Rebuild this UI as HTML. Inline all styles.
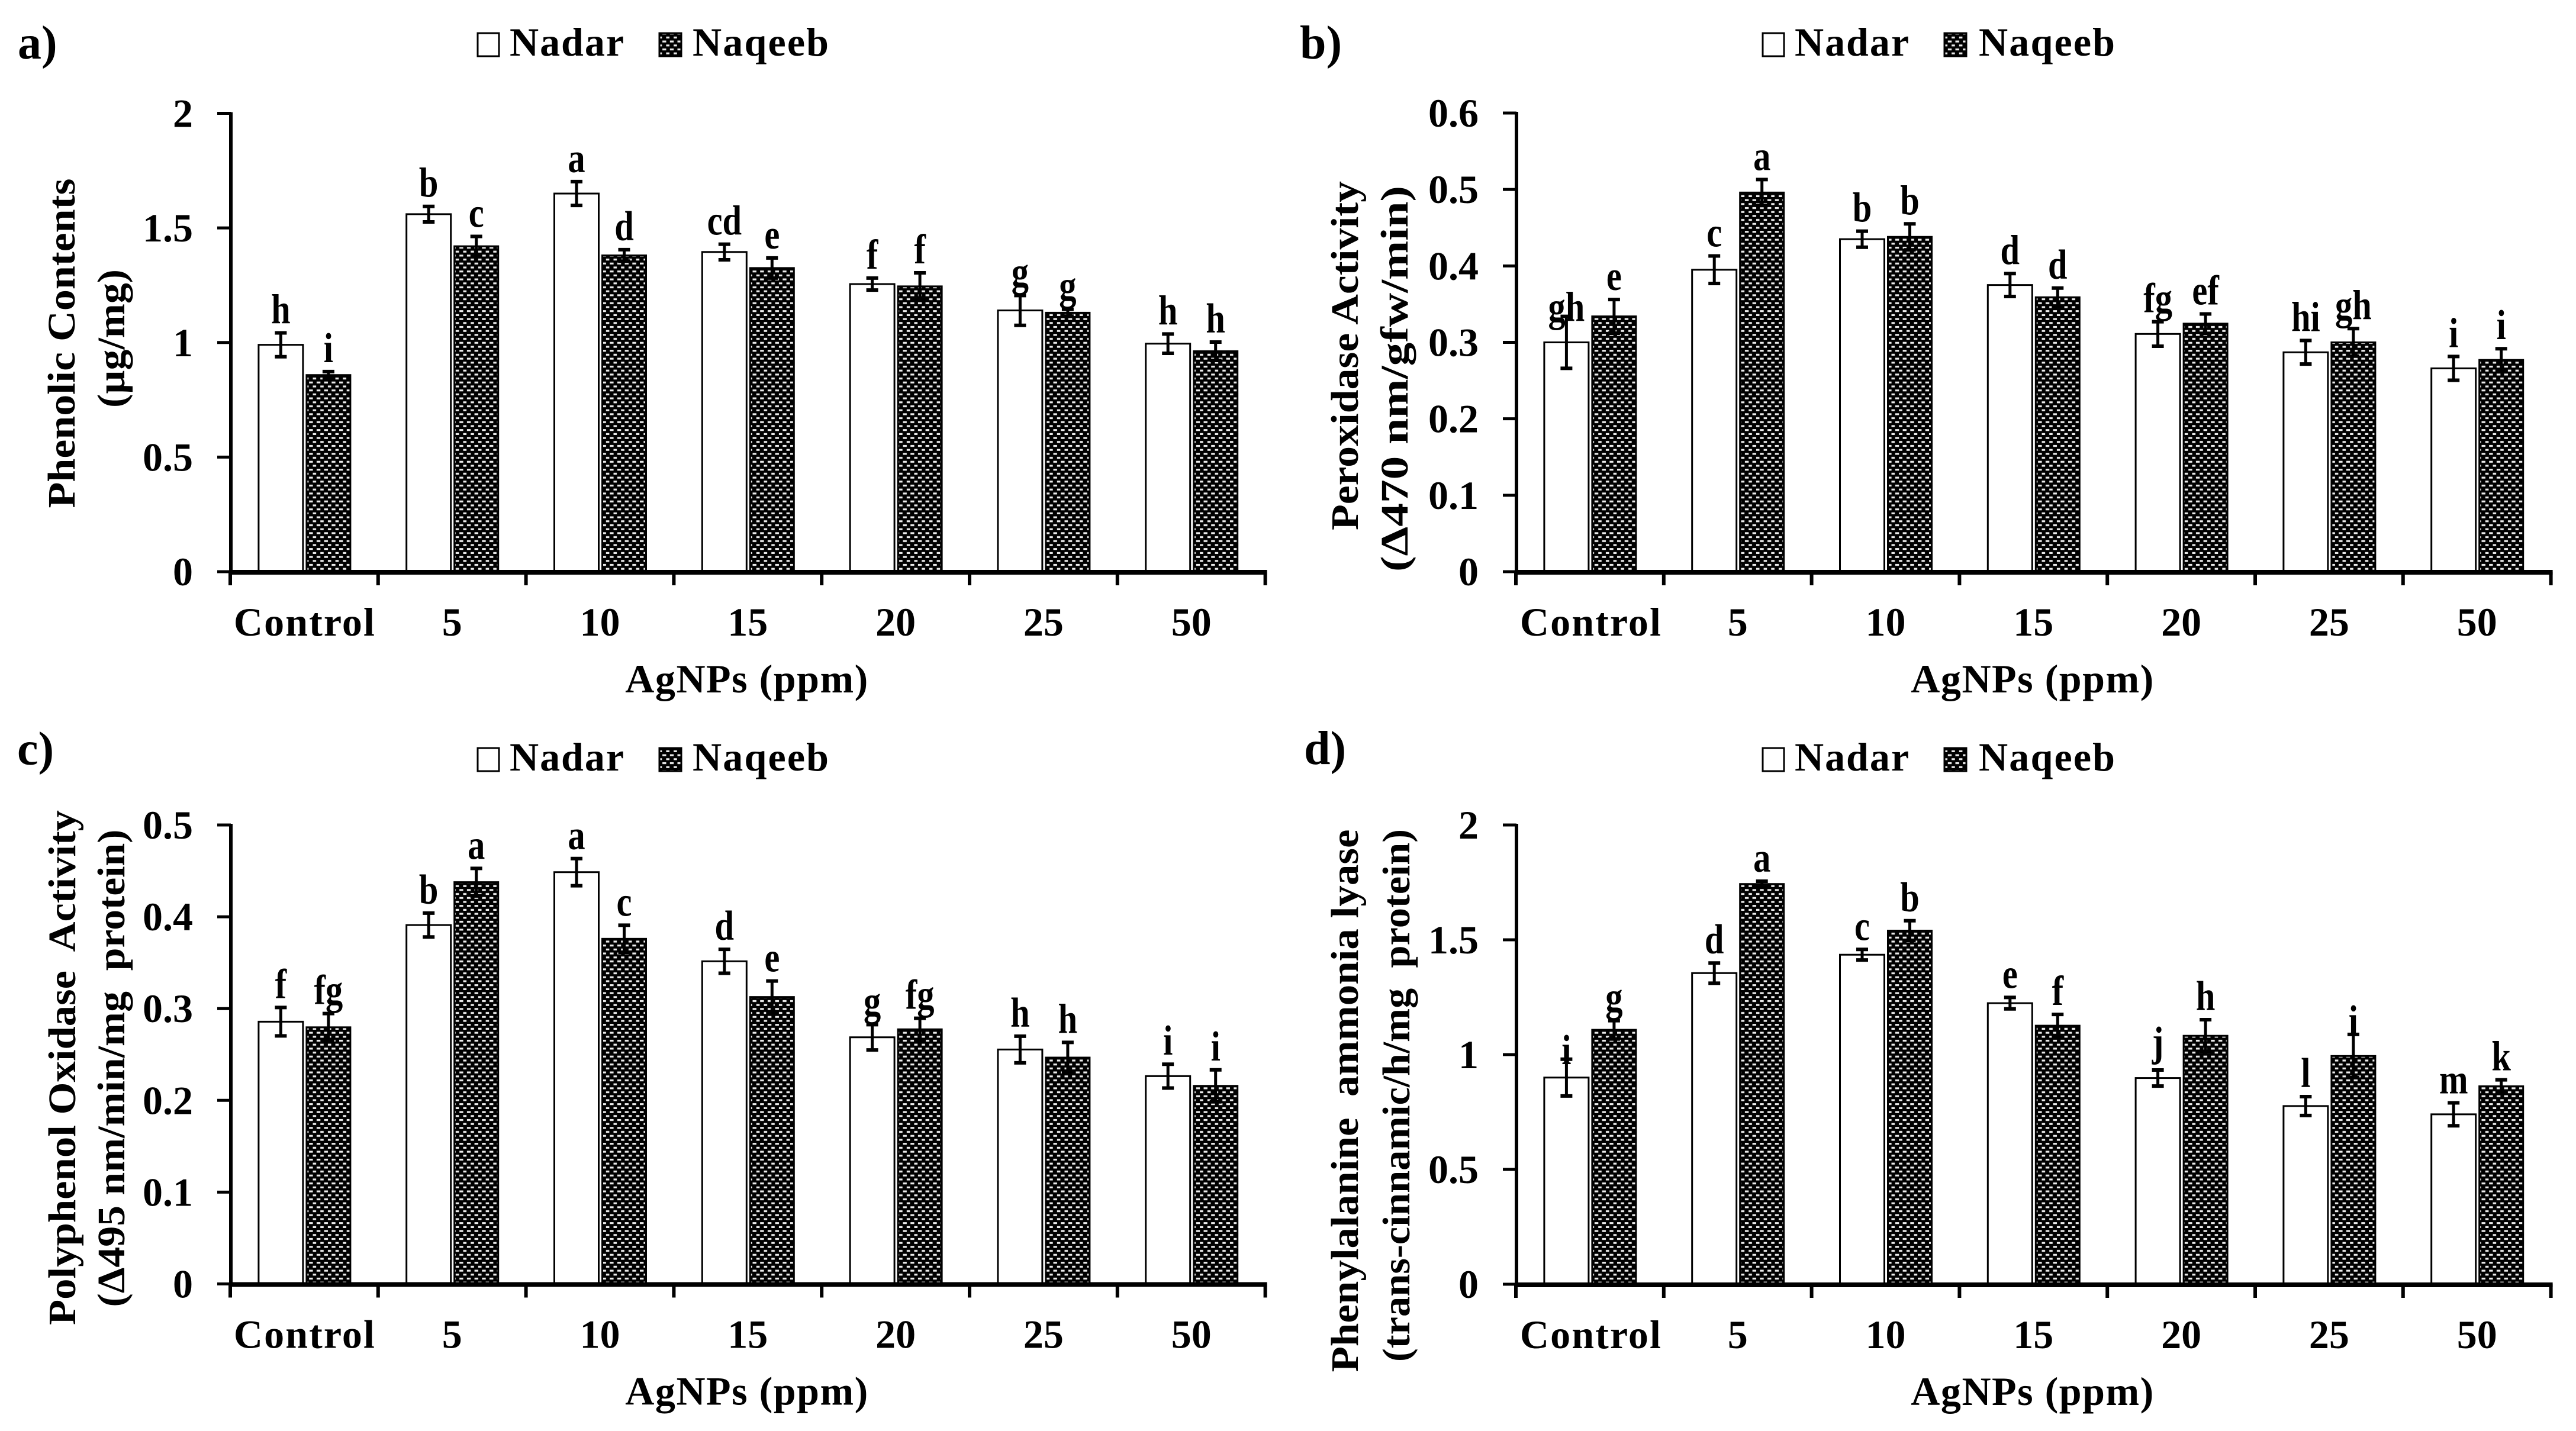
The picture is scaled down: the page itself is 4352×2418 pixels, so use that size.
<!DOCTYPE html>
<html lang="en">
<head>
<meta charset="utf-8">
<title>AgNPs effects on enzyme activity and phenolic contents</title>
<style>
html,body{margin:0;padding:0;background:#fff;}
svg{display:block;}
text{font-family:"Liberation Serif",serif;font-weight:bold;fill:#000;white-space:pre;}
</style>
</head>
<body>
<svg id="figure" xmlns="http://www.w3.org/2000/svg" width="4352" height="2418" viewBox="0 0 4352 2418">
  <defs>
    <pattern id="dots" patternUnits="userSpaceOnUse" width="12.7" height="13.4" x="1" y="0">
      <rect width="12.7" height="13.4" fill="#000"/>
      <rect x="0.5" y="1.5" width="6.4" height="3.2" fill="#ececec"/>
      <rect x="6.8" y="8.2" width="5.6" height="3.2" fill="#ececec"/>
    </pattern>
  </defs>
  <rect width="4352" height="2418" fill="#fff"/>
</svg>
<script>
const categories = ['Control', '5', '10', '15', '20', '25', '50'];
const seriesNames = ['Nadar', 'Naqeeb'];

const phenolicTicks = ['0', '0.5', '1', '1.5', '2'];
const phenolicNadar = [0.99, 1.56, 1.65, 1.395, 1.255, 1.14, 0.995];
const phenolicNaqeeb = [0.858, 1.42, 1.38, 1.325, 1.245, 1.13, 0.962];
const phenolicNadarErr = [0.052, 0.034, 0.052, 0.034, 0.026, 0.065, 0.042];
const phenolicNaqeebErr = [0.015, 0.043, 0.025, 0.044, 0.059, 0.015, 0.04];
const phenolicNadarLetters = ['h', 'b', 'a', 'cd', 'f', 'g', 'h'];
const phenolicNaqeebLetters = ['i', 'c', 'd', 'e', 'f', 'g', 'h'];

const peroxidaseTicks = ['0', '0.1', '0.2', '0.3', '0.4', '0.5', '0.6'];
const peroxidaseNadar = [0.30, 0.395, 0.435, 0.375, 0.311, 0.287, 0.266];
const peroxidaseNaqeeb = [0.334, 0.496, 0.438, 0.359, 0.3245, 0.30, 0.277];
const peroxidaseNadarErr = [0.034, 0.018, 0.0105, 0.015, 0.016, 0.0154, 0.0155];
const peroxidaseNaqeebErr = [0.022, 0.017, 0.017, 0.012, 0.0127, 0.018, 0.0147];
const peroxidaseNadarLetters = ['gh', 'c', 'b', 'd', 'fg', 'hi', 'i'];
const peroxidaseNaqeebLetters = ['e', 'a', 'b', 'd', 'ef', 'gh', 'i'];

const oxidaseTicks = ['0', '0.1', '0.2', '0.3', '0.4', '0.5'];
const oxidaseNadar = [0.2857, 0.391, 0.4486, 0.3515, 0.2687, 0.2554, 0.2264];
const oxidaseNaqeeb = [0.2796, 0.4377, 0.376, 0.3126, 0.2774, 0.2466, 0.2158];
const oxidaseNadarErr = [0.0155, 0.013, 0.0148, 0.013, 0.0138, 0.0145, 0.013];
const oxidaseNaqeebErr = [0.015, 0.015, 0.0148, 0.0174, 0.012, 0.0165, 0.0174];
const oxidaseNadarLetters = ['f', 'b', 'a', 'd', 'g', 'h', 'i'];
const oxidaseNaqeebLetters = ['fg', 'a', 'c', 'e', 'fg', 'h', 'i'];

const lyaseTicks = ['0', '0.5', '1', '1.5', '2'];
const lyaseNadar = [0.90, 1.355, 1.435, 1.224, 0.898, 0.776, 0.74];
const lyaseNaqeeb = [1.108, 1.743, 1.54, 1.126, 1.082, 0.994, 0.862];
const lyaseNadarErr = [0.08, 0.044, 0.023, 0.025, 0.035, 0.041, 0.05];
const lyaseNaqeebErr = [0.04, 0.012, 0.043, 0.049, 0.07, 0.094, 0.028];
const lyaseNadarLetters = ['i', 'd', 'c', 'e', 'j', 'l', 'm'];
const lyaseNaqeebLetters = ['g', 'a', 'b', 'f', 'h', 'i', 'k'];

const panels = [
  {id:'a', tag:'a)', tagX:30, tagY:99, left:389, top:191.5, base:966, ticks:phenolicTicks,
   nadar:phenolicNadar, naqeeb:phenolicNaqeeb, nadarErr:phenolicNadarErr, naqeebErr:phenolicNaqeebErr,
   nadarLetters:phenolicNadarLetters, naqeebLetters:phenolicNaqeebLetters, tightNadar:-1, tightNaqeeb:-1,
   legendY:94, box1:807, text1:861, box2:1114, text2:1170, controlShift:0,
   title:[['Phenolic Contents',126,580,557],['(\u00b5g/mg)',210,572,234]]},
  {id:'b', tag:'b)', tagX:2196, tagY:99, left:2561, top:191, base:966, ticks:peroxidaseTicks,
   nadar:peroxidaseNadar, naqeeb:peroxidaseNaqeeb, nadarErr:peroxidaseNadarErr, naqeebErr:peroxidaseNaqeebErr,
   nadarLetters:peroxidaseNadarLetters, naqeebLetters:peroxidaseNaqeebLetters, tightNadar:0, tightNaqeeb:-1,
   legendY:94, box1:2978, text1:3032, box2:3285, text2:3343, controlShift:1,
   title:[['Peroxidase Activity',2294,601,590],['(\u0394470 nm/gfw/min)',2378,640,652]]},
  {id:'c', tag:'c)', tagX:29, tagY:1292, left:389, top:1394, base:2169.5, ticks:oxidaseTicks,
   nadar:oxidaseNadar, naqeeb:oxidaseNaqeeb, nadarErr:oxidaseNadarErr, naqeebErr:oxidaseNaqeebErr,
   nadarLetters:oxidaseNadarLetters, naqeebLetters:oxidaseNaqeebLetters, tightNadar:-1, tightNaqeeb:-1,
   legendY:1302, box1:807, text1:861, box2:1114, text2:1170, controlShift:0,
   title:[['Polyphenol Oxidase  Activity',127,1804,870],['(\u0394495 nm/min/mg  protein)',210,1805,807]]},
  {id:'d', tag:'d)', tagX:2203, tagY:1291, left:2561, top:1394, base:2170, ticks:lyaseTicks,
   nadar:lyaseNadar, naqeeb:lyaseNaqeeb, nadarErr:lyaseNadarErr, naqeebErr:lyaseNaqeebErr,
   nadarLetters:lyaseNadarLetters, naqeebLetters:lyaseNaqeebLetters, tightNadar:0, tightNaqeeb:5,
   legendY:1302, box1:2978, text1:3032, box2:3285, text2:3343, controlShift:1,
   title:[['Phenylalanine  ammonia lyase',2294,1860,917],['(trans-cinnamic/h/mg  protein)',2381,1851,900]]}
];

const NS = 'http://www.w3.org/2000/svg';
const root = document.getElementById('figure');
const CAT_W = 249.8;

function make(parent, tag, attrs, content) {
  const el = document.createElementNS(NS, tag);
  for (const k in attrs) el.setAttribute(k, attrs[k]);
  if (content !== undefined) el.textContent = content;
  parent.appendChild(el);
  return el;
}
function xCat(p, i) { return p.left + CAT_W * i; }
function xMid(p, i) { return xCat(p, i) + CAT_W / 2; }
function yVal(p, v) {
  const max = parseFloat(p.ticks[p.ticks.length - 1]);
  return p.base - (v / max) * (p.base - p.top);
}
function vLine(g, x, y1, y2, w) { return make(g, 'line', {x1:x, x2:x, y1:y1, y2:y2, stroke:'#000', 'stroke-width':w}); }
function hLine(g, x1, x2, y, w) { return make(g, 'line', {x1:x1, x2:x2, y1:y, y2:y, stroke:'#000', 'stroke-width':w}); }

function drawSeries(g, p, values, errs, letters, isHatched) {
  values.forEach((v, i) => {
    const mid = xMid(p, i);
    const x1 = isHatched ? mid + 4 : mid - 77;
    const w = isHatched ? 74 : 75;
    const top = yVal(p, v);
    const bar = make(g, 'rect', {x:x1, y:top, width:w, height:p.base - top,
      fill:isHatched ? 'url(#dots)' : '#fff', stroke:'#000', 'stroke-width':3});
    
    

    const cx = x1 + w / 2;
    const errTop = yVal(p, v + errs[i]);
    const errBot = yVal(p, v - errs[i]);
    const eb = make(g, 'g', {});
    
    
    vLine(eb, cx, errTop, errBot, 5);
    hLine(eb, cx - 10, cx + 10, errTop, 6);
    hLine(eb, cx - 10, cx + 10, errBot, 6);

    let gap = letters[i] === 'j' ? 24 : 16;
    if (!isHatched && p.tightNadar === i) gap = -8;
    if (isHatched && p.tightNaqeeb === i) gap = 0;
    const lab = make(g, 'text', {'text-anchor':'middle', 'font-size':68,
      transform:'translate(' + cx + ',' + (errTop - gap) + ') scale(0.86,1.04)'}, letters[i]);
    
    
  });
}

panels.forEach(p => {
  const g = make(root, 'g', {});
  
  

  const tag = make(g, 'text', {x:p.tagX, y:p.tagY, 'font-size':80}, p.tag);
  
  

  // legend
  const lg = make(g, 'g', {});
  
  
  const box1 = make(lg, 'rect', {x:p.box1, y:p.legendY - 38, width:36, height:39, fill:'#fff', stroke:'#000', 'stroke-width':3});
  
  
  const t1 = make(lg, 'text', {x:p.text1, y:p.legendY, 'font-size':68, textLength:193, lengthAdjust:'spacing'}, seriesNames[0]);
  
  
  const box2 = make(lg, 'rect', {x:p.box2, y:p.legendY - 38, width:37, height:39, fill:'url(#dots)', stroke:'#000', 'stroke-width':3});
  
  
  const t2 = make(lg, 'text', {x:p.text2, y:p.legendY, 'font-size':68, textLength:230, lengthAdjust:'spacing'}, seriesNames[1]);
  
  

  // y title lines
  p.title.forEach((line, i) => {
    const tt = make(g, 'text', {'text-anchor':'middle', 'font-size':66, textLength:line[3], lengthAdjust:'spacingAndGlyphs',
      transform:'translate(' + line[1] + ',' + line[2] + ') rotate(-90)'}, line[0]);
    
    
  });

  // bars
  drawSeries(g, p, p.nadar, p.nadarErr, p.nadarLetters, false);
  drawSeries(g, p, p.naqeeb, p.naqeebErr, p.naqeebLetters, true);

  // y axis
  const ya = vLine(g, p.left + 1, p.top - 2, p.base + 2, 6);
  
  
  p.ticks.forEach(lbl => {
    const y = yVal(p, parseFloat(lbl));
    const tk = hLine(g, p.left - 22, p.left + 1, y, 5);
    
    
    const tl = make(g, 'text', {x:p.left - 63, y:y + 23, 'text-anchor':'end', 'font-size':68}, lbl);
    
    
  });

  // x axis
  const xa = hLine(g, p.left - 2, xCat(p, categories.length) + 3, p.base + 1, 8);
  
  
  for (let i = 0; i <= categories.length; i++) {
    const tk = vLine(g, xCat(p, i), p.base, p.base + 23, 6);
    
    
  }
  categories.forEach((c, i) => {
    const attrs = {x:xMid(p, i) + (i === 0 ? p.controlShift : 0), y:p.base + 108, 'text-anchor':'middle', 'font-size':68};
    if (i === 0) { attrs.textLength = 238; attrs.lengthAdjust = 'spacing'; }
    const cl = make(g, 'text', attrs, c);
    
    
  });
  const xt = make(g, 'text', {x:p.left + CAT_W * 3.5 - 2, y:p.base + 204, 'text-anchor':'middle', 'font-size':68, textLength:410, lengthAdjust:'spacing'}, 'AgNPs (ppm)');
  
  
});
</script>
</body>
</html>
